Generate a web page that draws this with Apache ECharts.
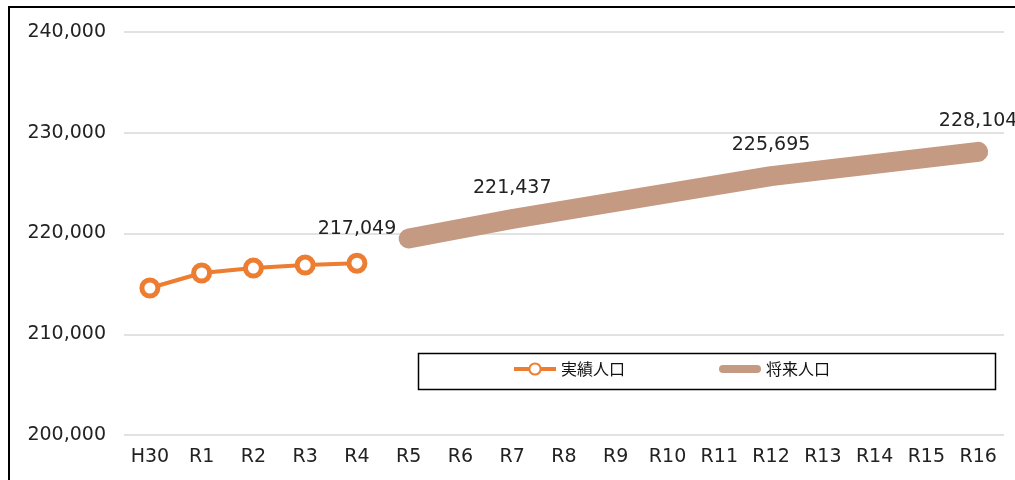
<!DOCTYPE html>
<html>
<head>
<meta charset="utf-8">
<script src="https://cdn.jsdelivr.net/npm/echarts@6/dist/echarts.min.js"></script>
<style>
  html, body { margin: 0; padding: 0; overflow: hidden; background: #fff; }
  #main { width: 1015px; height: 480px; }
  #frame {
    position: absolute; left: 8px; top: 6px; width: 1100px; height: 600px;
    border: 2px solid #000; pointer-events: none;
  }
</style>
</head>
<body>
<div id="main"></div>
<div id="frame"></div>
<script>
  // 年度
  const categories = ["H30", "R1", "R2", "R3", "R4", "R5", "R6", "R7", "R8",
    "R9", "R10", "R11", "R12", "R13", "R14", "R15", "R16"];
  // 実績人口
  const actual = [214590, 216080, 216570, 216870, 217049, null, null, null, null,
    null, null, null, null, null, null, null, null];
  // 将来人口 (推計値のある年度のみ)
  const future = [null, null, null, null, null, 219500, null, 221437, null,
    null, null, null, 225695, null, null, null, 228104];
  const actualLabelIdx = [4];
  const futureLabelIdx = [7, 12, 16];
  const yTicks = [200000, 210000, 220000, 230000, 240000];

  const font = "DejaVu Sans, 'Noto Sans CJK JP', sans-serif";
  const fmt = (v) => v.toLocaleString("en-US");
  const orange = "#ED7D31";
  const brown = "#C49A82";

  const myChart = echarts.init(document.getElementById("main"));
  myChart.setOption({
    animation: false,
    textStyle: { fontFamily: font },
    grid: { left: 124, right: 11, top: 32, bottom: 45 },
    legend: {
      left: 507,
      top: 356,
      itemWidth: 42,
      itemHeight: 14,
      itemGap: 94,
      textStyle: { fontSize: 16, color: "#111", fontFamily: "'Noto Sans CJK JP', sans-serif" },
      data: [
        { name: "実績人口", lineStyle: { width: 4 } },
        {
          name: "将来人口",
          icon: "path://M4,0L38,0A4,4,0,0,1,38,8L4,8A4,4,0,0,1,4,0Z",
          itemStyle: { color: brown },
        },
      ],
    },
    xAxis: {
      type: "category",
      data: categories,
      axisLine: { show: false },
      axisTick: { show: false },
      axisLabel: { color: "#222", fontSize: 19, margin: 13 },
    },
    yAxis: {
      type: "value",
      min: yTicks[0],
      max: yTicks[yTicks.length - 1],
      interval: 10000,
      axisLabel: {
        color: "#222", fontSize: 19, margin: 18,
        formatter: (v) => fmt(v),
      },
      splitLine: { lineStyle: { color: "#d9d9d9", width: 1.5 } },
    },
    graphic: [
      {
        type: "rect",
        left: 416, top: 351,
        shape: { width: 577, height: 36 },
        style: { fill: "none", stroke: "#000", lineWidth: 1.5 },
        z: 0,
      },
    ],
    series: [
      {
        name: "将来人口",
        type: "line",
        connectNulls: true,
        symbol: "circle",
        symbolSize: 1,
        lineStyle: { color: brown, width: 20, cap: "round", join: "round" },
        itemStyle: { color: brown },
        data: future.map((v, i) => ({
          value: v,
          label: {
            show: futureLabelIdx.includes(i),
            position: "top",
            distance: 21,
            color: "#222",
            fontSize: 19,
            formatter: (p) => fmt(p.value),
          },
        })),
        z: 2,
      },
      {
        name: "実績人口",
        type: "line",
        symbol: "circle",
        symbolSize: 16,
        lineStyle: { color: orange, width: 4 },
        itemStyle: { color: "#fff", borderColor: orange, borderWidth: 5 },
        data: actual.map((v, i) => ({
          value: v,
          label: {
            show: actualLabelIdx.includes(i),
            position: "top",
            distance: 14,
            color: "#222",
            fontSize: 19,
            formatter: (p) => fmt(p.value),
          },
        })),
        z: 3,
      },
    ],
  });
</script>
</body>
</html>
